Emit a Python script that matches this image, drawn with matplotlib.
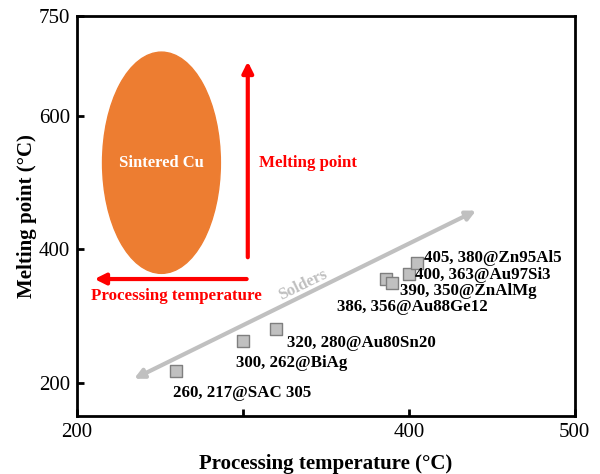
import matplotlib.pyplot as plt
from matplotlib.patches import Ellipse

plt.rcParams['font.family'] = ['Liberation Serif', 'DejaVu Serif']

# Datos
proc_temp = [260, 300, 320, 386, 390, 400, 405]
melt_point = [217, 262, 280, 356, 350, 363, 380]
labels = ['260, 217@SAC 305', '300, 262@BiAg', '320, 280@Au80Sn20',
          '386, 356@Au88Ge12', '390, 350@ZnAlMg', '400, 363@Au97Si3',
          '405, 380@Zn95Al5']
label_pos = [(258, 184), (296, 230), (326.5, 259), (356.5, 313),
             (394.5, 337), (403.5, 361), (409, 387)]

x_ticks = [200, 300, 400, 500]
x_ticklabels = ['200', '', '400', '500']
y_ticks = [200, 400, 600, 750]

fig = plt.figure(figsize=(6, 4.74), dpi=100)
ax = fig.add_axes([0.128, 0.1224, 0.83, 0.8436])

# Sintered Cu
ax.add_patch(Ellipse((251, 530), 71, 332, color='#ed7d31', zorder=1))
ax.text(251, 530, 'Sintered Cu', color='white', fontsize=12, fontweight='bold',
        ha='center', va='center')

# Flechas rojas
ax.annotate('', xy=(303, 686), xytext=(303, 384),
            arrowprops=dict(arrowstyle='-|>', color='red', lw=3, mutation_scale=16))
ax.annotate('', xy=(209, 355.5), xytext=(304, 355.5),
            arrowprops=dict(arrowstyle='-|>', color='red', lw=3, mutation_scale=16))
ax.text(310, 530, 'Melting point', color='red', fontsize=12.2, fontweight='bold',
        ha='left', va='center')
ax.text(260, 330, 'Processing temperature', color='red', fontsize=12.2,
        fontweight='bold', ha='center', va='center')

# Flecha gris (Solders)
ax.annotate('', xy=(233, 204), xytext=(442, 460),
            arrowprops=dict(arrowstyle='<|-|>', color='#c0c0c0', lw=3,
                            mutation_scale=14))
ax.text(336, 347, 'Solders', color='#c0c0c0', fontsize=12, fontweight='bold',
        rotation=26, ha='center', va='center')

# Puntos
ax.scatter(proc_temp, melt_point, marker='s', s=80, facecolor='#c0c0c0',
           edgecolor='#7f7f7f', linewidths=1, zorder=3)
for lab, (lx, ly) in zip(labels, label_pos):
    ax.text(lx, ly, lab, fontsize=12.2, fontweight='bold', ha='left',
            va='center', zorder=4)

ax.set_xlim(200, 500)
ax.set_ylim(150, 750)
ax.set_xticks(x_ticks)
ax.set_xticklabels(x_ticklabels)
ax.set_yticks(y_ticks)
ax.tick_params(direction='in', labelsize=15, width=2, length=5, pad=5)
for s in ax.spines.values():
    s.set_linewidth(2)

ax.set_xlabel('Processing temperature (°C)', fontsize=15, fontweight='bold', labelpad=9)
ax.set_ylabel('Melting point (°C)', fontsize=15, fontweight='bold', labelpad=1)

plt.savefig('out.png', dpi=100)
